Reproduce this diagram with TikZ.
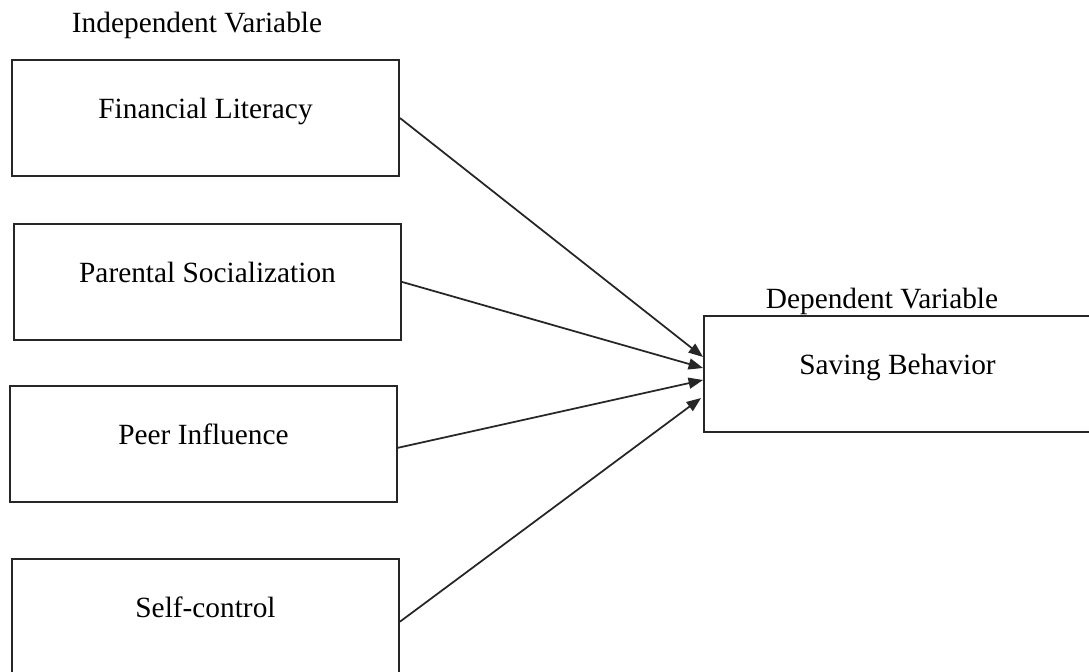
\documentclass[tikz,border=0pt]{standalone}
\usepackage{fontspec}
\setmainfont{Liberation Serif}
\usepackage{tikz}
\usetikzlibrary{positioning,arrows.meta,calc}

\begin{document}
\begin{tikzpicture}[
  x=0.02cm, y=-0.02cm,
  node distance=0.92cm,
  vbox/.style={draw=black!85, line width=1.1pt, minimum width=7.74cm, minimum height=2.32cm,
               text height=0.41cm, text depth=0.38cm, inner sep=0pt,
               font=\fontsize{16.7}{20}\selectfont},
  lbl/.style={font=\fontsize{16.7}{20}\selectfont, inner sep=0pt},
  link/.style={-{Triangle[length=2.9mm, width=2.2mm]}, black!85, line width=1pt}
]
\useasboundingbox (0,0) rectangle (1089,672);
\clip (0,0) rectangle (1089,672);

\node[lbl] (iv) at (197,25) {Independent Variable};
\node[vbox] (fl) at (205.5,118) {Financial Literacy};
\node[vbox, below=0.92cm of fl, xshift=0.04cm] (ps) {Parental Socialization};
\node[vbox, below=0.88cm of ps, xshift=-0.08cm] (pi) {Peer Influence};
\node[vbox, below=1.10cm of pi, xshift=0.04cm] (sc) {Self-control};

\node[vbox] (sb) at (897.5,374) {Saving Behavior};
\node[lbl] (dvl) at (882,301) {Dependent Variable};

\draw[link] (fl.east) -- ([yshift=0.34cm]sb.west);
\draw[link] (ps.east) -- ([yshift=0.12cm]sb.west);
\draw[link] ([yshift=-0.08cm]pi.east) -- ([yshift=-0.12cm]sb.west);
\draw[link] ([yshift=-0.1cm]sc.east) -- ([yshift=-0.48cm, xshift=-0.04cm]sb.west);

\end{tikzpicture}
\end{document}
